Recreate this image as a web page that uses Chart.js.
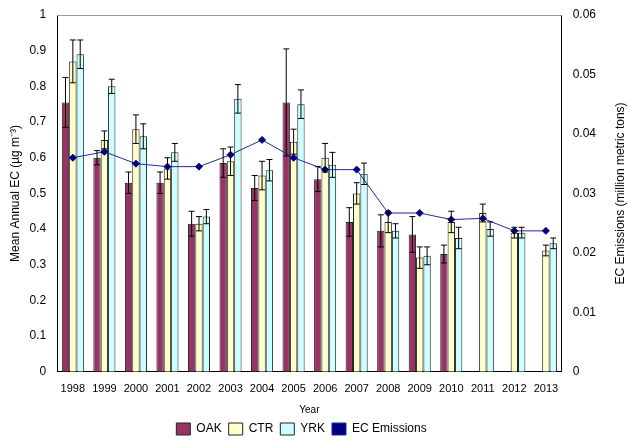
<!DOCTYPE html>
<html><head><meta charset="utf-8">
<script src="https://cdn.jsdelivr.net/npm/chart.js@4"></script>
<style>body{margin:0;background:#fff}#wrap{width:629px;height:445px}</style>
</head><body><div id="wrap"><canvas id="c"></canvas></div>
<script>
const years = ['1998','1999','2000','2001','2002','2003','2004','2005','2006','2007','2008','2009','2010','2011','2012','2013'];
const oak = [0.755,0.60,0.53,0.53,0.415,0.585,0.515,0.755,0.54,0.42,0.395,0.385,0.33,null,null,null];
const ctr = [0.87,0.65,0.68,0.57,0.415,0.59,0.55,0.645,0.60,0.50,0.42,0.32,0.42,0.445,0.39,0.34];
const yrk = [0.89,0.80,0.66,0.615,0.435,0.765,0.565,0.75,0.58,0.555,0.395,0.325,0.375,0.40,0.39,0.36];
const oakErr = [0.07,0.02,0.03,0.03,0.035,0.04,0.035,0.15,0.035,0.04,0.045,0.05,0.025,0,0,0];
const ctrErr = [0.06,0.025,0.04,0.03,0.02,0.04,0.04,0.035,0.04,0.03,0.03,0.03,0.03,0.025,0.015,0.015];
const yrkErr = [0.04,0.02,0.035,0.025,0.02,0.04,0.03,0.04,0.035,0.03,0.02,0.025,0.03,0.02,0.015,0.015];
const emissions = [0.036,0.037,0.035,0.0345,0.0345,0.0365,0.039,0.036,0.034,0.034,0.0267,0.0267,0.0256,0.0258,0.0237,0.0237];
const errs = [oakErr, ctrErr, yrkErr];
const FONT = 'Liberation Sans';

const errorBars = {
  id: 'errorBars',
  afterDatasetsDraw(chart) {
    const ctx = chart.ctx, y = chart.scales.y;
    ctx.save();
    ctx.strokeStyle = '#000'; ctx.lineWidth = 1;
    for (let d = 0; d < 3; d++) {
      chart.getDatasetMeta(d).data.forEach((bar, i) => {
        const v = chart.data.datasets[d].data[i];
        if (v == null || !errs[d][i]) return;
        const top = y.getPixelForValue(v + errs[d][i]), bot = y.getPixelForValue(v - errs[d][i]);
        ctx.beginPath();
        ctx.moveTo(bar.x, top); ctx.lineTo(bar.x, bot);
        ctx.moveTo(bar.x - 3, top); ctx.lineTo(bar.x + 3, top);
        ctx.moveTo(bar.x - 3, bot); ctx.lineTo(bar.x + 3, bot);
        ctx.stroke();
      });
    }
    ctx.restore();
  }
};

// right-hand axis title, reading bottom to top like the left one
const rightTitle = {
  id: 'rightTitle',
  afterDraw(chart) {
    const a = chart.chartArea, ctx = chart.ctx;
    ctx.save();
    ctx.strokeStyle = '#999'; ctx.beginPath();
    ctx.moveTo(a.left, a.top + 0.5); ctx.lineTo(a.right, a.top + 0.5); ctx.stroke();
    ctx.translate(621, (a.top + a.bottom) / 2);
    ctx.rotate(-Math.PI / 2);
    ctx.fillStyle = '#000'; ctx.font = '12px ' + FONT;
    ctx.textAlign = 'center'; ctx.textBaseline = 'middle';
    ctx.fillText('EC Emissions (million metric tons)', 0, 0);
    ctx.restore();
  }
};

const barStyle = {borderColor: '#222', borderWidth: 1, categoryPercentage: 0.7, barPercentage: 1, yAxisID: 'y', order: 2};
new Chart(document.getElementById('c'), {
  data: {
    labels: years,
    datasets: [
      {type: 'bar', label: 'OAK', data: oak, backgroundColor: '#993366', ...barStyle},
      {type: 'bar', label: 'CTR', data: ctr, backgroundColor: '#ffffcc', ...barStyle},
      {type: 'bar', label: 'YRK', data: yrk, backgroundColor: '#ccffff', ...barStyle},
      {type: 'line', label: 'EC Emissions', data: emissions, yAxisID: 'y2', borderColor: '#1f2a9c', backgroundColor: '#000080',
       borderWidth: 1, pointStyle: 'rectRot', pointRadius: 3.5, pointBorderColor: '#000080', order: 1}
    ]
  },
  options: {
    responsive: true, maintainAspectRatio: false, animation: false,
    layout: {padding: {top: 15, right: 30, left: 4, bottom: 0}},
    plugins: {
      tooltip: {enabled: false},
      legend: {position: 'bottom',
        labels: {font: {family: FONT, size: 12}, color: '#000', boxWidth: 14, boxHeight: 12, padding: 7,
          sort: (a, b) => a.datasetIndex - b.datasetIndex}}
    },
    scales: {
      x: {offset: true, grid: {display: false, offset: true}, border: {color: '#000'},
          ticks: {color: '#000', font: {family: FONT, size: 11}, maxRotation: 0, autoSkip: false},
          title: {display: true, text: 'Year', color: '#000', font: {family: FONT, size: 10}, padding: {top: 5, bottom: 0}}},
      y: {min: 0, max: 1, position: 'left', grid: {display: false}, border: {color: '#000'},
          ticks: {stepSize: 0.1, color: '#000', font: {family: FONT, size: 12}, callback: v => +v.toFixed(1)},
          title: {display: true, text: 'Mean Annual EC (µg m⁻³)', color: '#000', font: {family: FONT, size: 12}}},
      y2: {min: 0, max: 0.06, position: 'right', grid: {display: false}, border: {color: '#000'},
          ticks: {stepSize: 0.01, color: '#000', font: {family: FONT, size: 12}, callback: v => +v.toFixed(2)}}
    }
  },
  plugins: [errorBars, rightTitle]
});
</script></body></html>
